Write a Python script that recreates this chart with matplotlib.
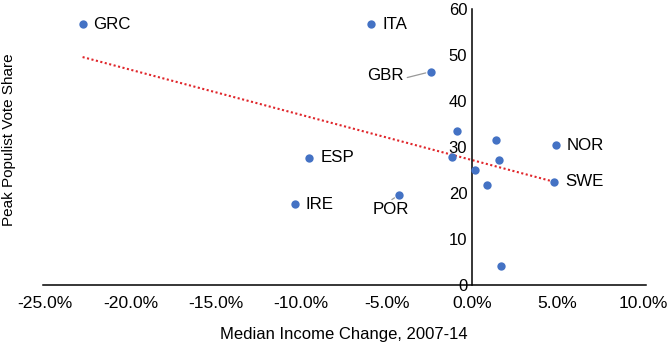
import numpy as np
import matplotlib
matplotlib.use("Agg")
import matplotlib.pyplot as plt
from matplotlib.ticker import FuncFormatter, MultipleLocator

plt.rcParams['font.family'] = ['Liberation Sans', 'DejaVu Sans']

# median income change 2007-14 (%), peak populist vote share
income_change = [-22.8, -5.9, -2.4, -0.9, -1.2, 0.15, 0.88, 1.42, 1.58, 1.71,
                 4.9, 4.8, -4.27, -9.53, -10.37]
vote_share = [56.7, 56.7, 46.4, 33.5, 27.9, 25.1, 21.7, 31.5, 27.2, 4.1,
              30.4, 22.4, 19.6, 27.7, 17.6]
labels = ['GRC', 'ITA', 'GBR', '', '', '', '', '', '', '',
          'NOR', 'SWE', 'POR', 'ESP', 'IRE']

x = np.array(income_change)
y = np.array(vote_share)

fig = plt.figure(figsize=(6.67, 3.44), dpi=100)
ax = fig.add_axes([45 / 667, 59 / 344, 598 / 667, 276 / 344])

blue = '#4472C4'
ax.scatter(x, y, s=36, color=blue, zorder=3, linewidths=0)

# linear trend
b, a = np.polyfit(x, y, 1)
xs = np.array([x.min(), x.max()])
ax.plot(xs, a + b * xs, color='#e0262b', linestyle=(0, (1, 1.2)), lw=1.5, zorder=2)

# point labels
fs = 12.2
for xi, yi, lab in zip(x, y, labels):
    if not lab:
        continue
    if lab == 'GBR':
        ax.annotate(lab, (xi, yi), xytext=(-28, -4), textcoords='offset pixels',
                    ha='right', va='center', fontsize=fs,
                    arrowprops=dict(arrowstyle='-', color='#999999', lw=0.9,
                                    relpos=(1, 0.3), shrinkA=1, shrinkB=4))
    elif lab == 'POR':
        ax.annotate(lab, (xi, yi), xytext=(-8, -15), textcoords='offset pixels',
                    ha='center', va='center', fontsize=fs,
                    arrowprops=dict(arrowstyle='-', color='#999999', lw=0.9,
                                    relpos=(0.4, 1), shrinkA=0, shrinkB=4))
    else:
        ax.annotate(lab, (xi, yi), xytext=(11, 0), textcoords='offset pixels',
                    ha='left', va='center', fontsize=fs)

ax.set_xlim(-25, 10)
ax.set_ylim(0, 60)
ax.xaxis.set_major_locator(MultipleLocator(5))
ax.yaxis.set_major_locator(MultipleLocator(10))
ax.xaxis.set_major_formatter(FuncFormatter(lambda v, p: '{:.1f}%'.format(v)))

for s in ['top', 'right']:
    ax.spines[s].set_visible(False)
ax.spines['left'].set_position(('data', 0))
ax.spines['left'].set_linewidth(1.1)
ax.spines['bottom'].set_linewidth(1.1)
ax.spines['bottom'].set_bounds(-25.1, 10.2)

ax.tick_params(axis='both', length=0)
ax.tick_params(axis='x', pad=8, labelsize=12.6)
ax.tick_params(axis='y', pad=3.5, labelsize=12)

ax.set_xlabel('Median Income Change, 2007-14', fontsize=12)
ax.xaxis.set_label_coords(0.5, -0.152)
ax.set_ylabel('Peak Populist Vote Share', fontsize=11)
ax.yaxis.set_label_coords(-0.048, 0.525)

fig.savefig('out.png', dpi=100)
